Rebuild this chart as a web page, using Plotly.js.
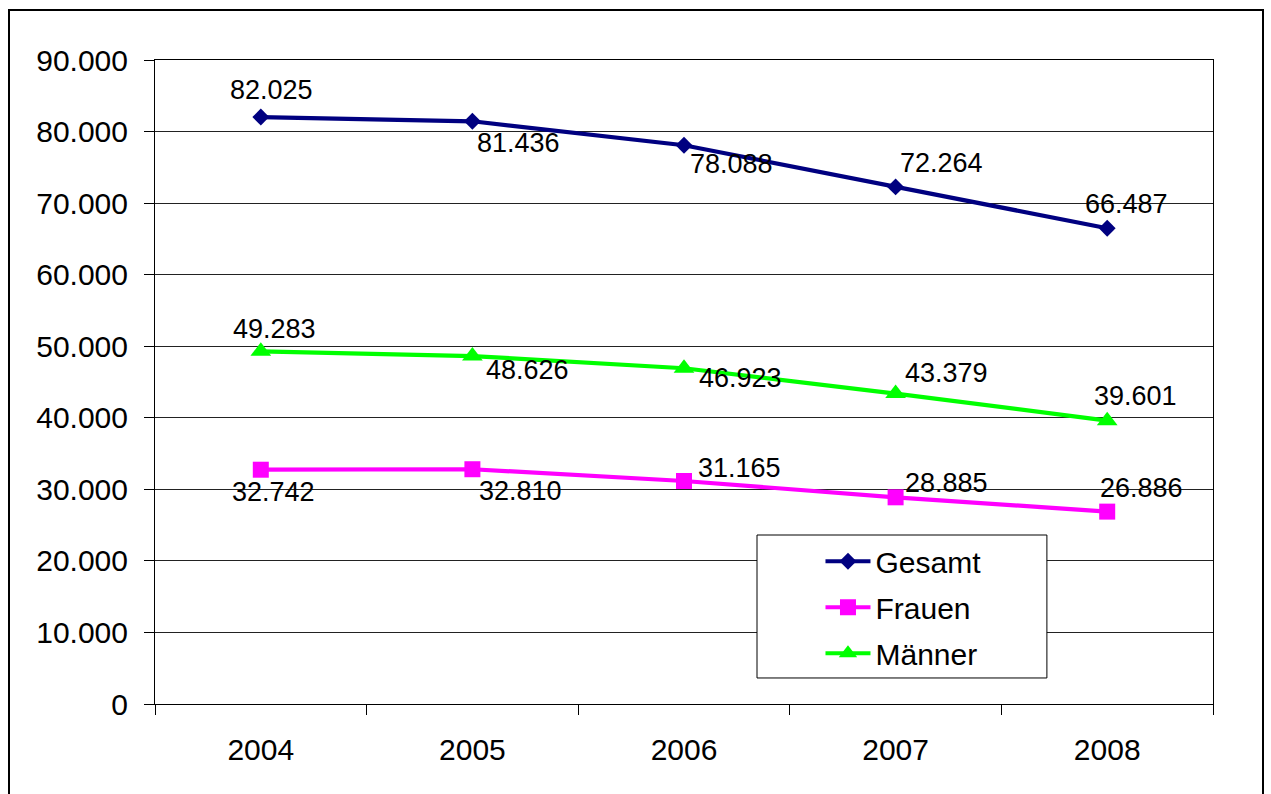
<!DOCTYPE html>
<html>
<head>
<meta charset="utf-8">
<script src="https://cdn.plot.ly/plotly-3.0.1.min.js"></script>
<style>
  html, body { margin: 0; padding: 0; background: #fff; }
  #wrap { position: relative; width: 1271px; height: 794px; overflow: hidden; }
  #chart { width: 1271px; height: 794px; }
  #frame { position: absolute; left: 8px; top: 9px; width: 1252px; height: 820px;
           border: 2px solid #000; pointer-events: none; }
</style>
</head>
<body>
<div id="wrap">
  <div id="chart"></div>
  <div id="frame"></div>
</div>
<script>
// ---- data ----
const years = ['2004', '2005', '2006', '2007', '2008'];
const gesamt = [82025, 81436, 78088, 72264, 66487];
const frauen = [32742, 32810, 31165, 28885, 26886];
const maenner = [49283, 48626, 46923, 43379, 39601];
const seriesNames = ['Gesamt', 'Frauen', 'Männer'];

// ---- label placement (pixel offsets of each data label from its point) ----
const offGesamt = [[11, 27], [46, -22], [47, -19], [46, 24], [19, 24]];
const offFrauen = [[13, -22], [48, -22], [55, 13], [51, 14], [34, 24]];
const offMaenner = [[14, 22], [55, -14], [56, -10], [51, 21], [28, 25]];

function fmt(v) {
  return String(v).replace(/\B(?=(\d{3})+(?!\d))/g, '.');
}

const FONT = 'Liberation Sans, Arial, sans-serif';

function trace(name, y, color, symbol, size, group) {
  return {
    type: 'scatter', mode: 'lines+markers', name: name,
    x: years, y: y, legendgroup: group,
    line: { color: color, width: 4.2 },
    marker: { color: color, symbol: symbol, size: size },
    hoverinfo: 'skip'
  };
}

const data = [
  trace(seriesNames[0], gesamt, '#000080', 'diamond', 13, 'g1'),
  trace(seriesNames[1], frauen, '#FF00FF', 'square', 16, 'g2'),
  trace(seriesNames[2], maenner, '#00FF00', 'triangle-up', 18, 'g3')
];

const annotations = [];
function addLabels(vals, offs) {
  vals.forEach((v, i) => {
    annotations.push({
      x: i, y: v, xref: 'x', yref: 'y',
      text: fmt(v), showarrow: false,
      xshift: offs[i][0], yshift: offs[i][1],
      font: { family: FONT, size: 27, color: '#000' }
    });
  });
}
addLabels(gesamt, offGesamt);
addLabels(frauen, offFrauen);
addLabels(maenner, offMaenner);

const layout = {
  width: 1271, height: 794,
  margin: { l: 155, r: 58, t: 60, b: 90 },
  paper_bgcolor: '#fff', plot_bgcolor: '#fff',
  separators: ',.',
  font: { family: FONT, size: 30, color: '#000' },
  showlegend: true,
  legend: {
    x: 0.629, y: 0.262, xanchor: 'left', yanchor: 'top',
    bgcolor: 'rgba(0,0,0,0)', borderwidth: 0,
    font: { family: FONT, size: 30, color: '#000' },
    traceorder: 'grouped', tracegroupgap: 4, itemwidth: 45
  },
  xaxis: {
    type: 'category', range: [-0.5, 4.5],
    tickson: 'boundaries', ticks: 'outside', ticklen: 10, tickcolor: '#000', tickwidth: 1,
    showline: true, linecolor: '#000', linewidth: 1, mirror: true,
    showgrid: false, zeroline: false,
    tickfont: { family: FONT, size: 30, color: '#000' },
    ticklabelstandoff: 19
  },
  yaxis: {
    range: [0, 90000], dtick: 10000, tick0: 0, tickformat: ',d',
    ticks: 'outside', ticklen: 10, tickcolor: '#000', tickwidth: 1,
    showline: true, linecolor: '#000', linewidth: 1, mirror: true,
    showgrid: true, gridcolor: '#222', gridwidth: 1, zeroline: false,
    tickfont: { family: FONT, size: 30, color: '#000' },
    ticklabelstandoff: 10
  },
  shapes: [{
    type: 'rect', xref: 'paper', yref: 'paper',
    x0: 0.569, x1: 0.843, y0: 0.0404, y1: 0.2624,
    line: { color: '#000', width: 1 }, fillcolor: '#fff', layer: 'above'
  }],
  annotations: annotations
};

Plotly.newPlot('chart', data, layout, { displayModeBar: false, staticPlot: true });
</script>
</body>
</html>
